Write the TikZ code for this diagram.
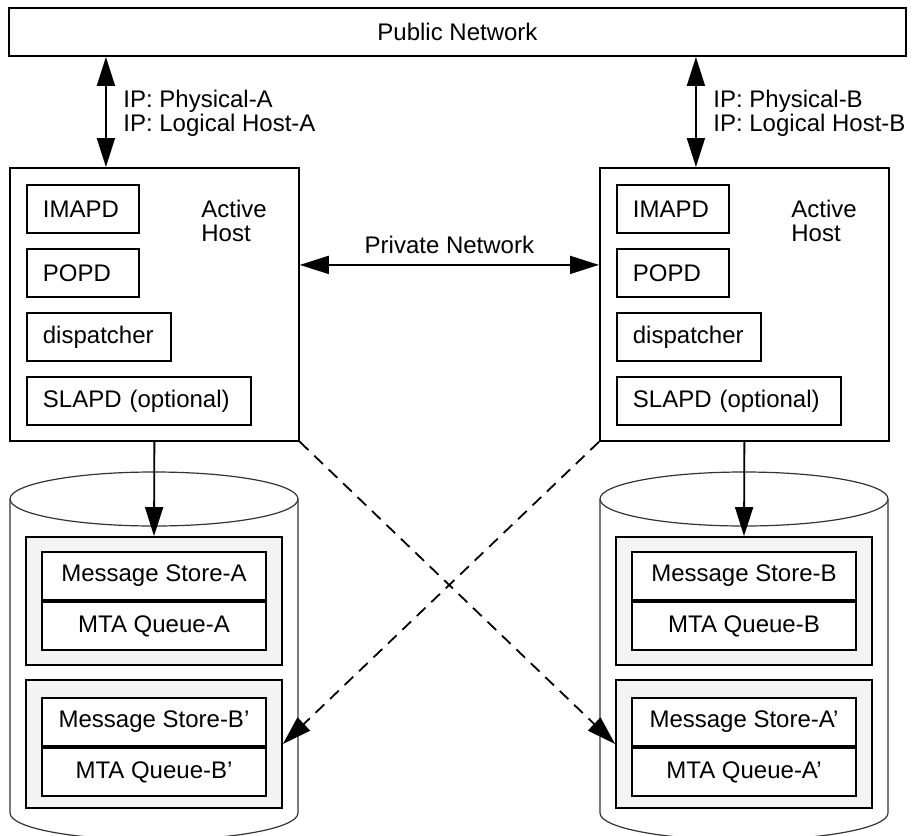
\documentclass[tikz,border=0pt]{standalone}
\usepackage{fontspec}
\setmainfont{Liberation Sans}
\usetikzlibrary{arrows.meta,calc}
\definecolor{storegray}{HTML}{F4F4F4}
\tikzset{
  % outlined service box, text flush left
  svc/.style   = {draw, line width=0.9pt, anchor=north west, inner xsep=8pt,
                  minimum height=24pt, align=left},
  host/.style  = {draw, line width=0.9pt, anchor=north west, minimum width=144.5pt,
                  minimum height=136.5pt, inner sep=0pt},
  store/.style = {draw, line width=0.9pt, fill=storegray, minimum width=128pt,
                  minimum height=64pt},
  cell/.style  = {draw, line width=0.9pt, fill=white, minimum width=112pt,
                  minimum height=24pt, inner sep=0pt},
  % two-line label, placed by the baseline of its last line
  lbl/.style   = {align=left, inner sep=0pt, anchor=base west},
  dbl/.style   = {{Triangle[length=14.5pt,width=9pt]}-{Triangle[length=14.5pt,width=9pt]},
                  line width=0.9pt},
  arr/.style   = {-{Triangle[length=14.5pt,width=9pt]}, line width=0.9pt},
  link/.style  = {arr, dash pattern=on 6pt off 4pt},
  drum/.style  = {line width=0.6pt, draw=black!80},
}

\begin{document}
\begin{tikzpicture}[x=0.5pt, y=-0.5pt, font=\fontsize{12}{12}\selectfont]
\useasboundingbox (0,0) rectangle (912,836);
\clip (0,0) rectangle (912,836);

% --- public network along the top -------------------------------------
\node[draw, line width=0.9pt, minimum width=448.5pt, minimum height=24pt] (pub)
  at (457.5,32) {Public Network};

% --- the two hosts, each with its disk --------------------------------
\foreach \h/\oth/\dx in {A/B/0, B/A/590} {
  \node[host] (host\h) at (9+\dx,167) {};
  \node[svc, text width=40pt] (imapd\h) at (26+\dx,184) {IMAPD};
  \node[svc, text width=40pt] (popd\h)  at (26+\dx,248) {POPD};
  \node[svc, text width=56pt] (disp\h)  at (26+\dx,312) {dispatcher};
  \node[svc, text width=96pt] (slapd\h) at (26+\dx,376) {SLAPD (optional)};
  \node[lbl] (role\h) at (201+\dx,241) {Active\\Host};

  % uplink to the public network
  \coordinate (up\h) at ($(host\h.north west)!1/3!(host\h.north east)$);
  \draw[dbl] (pub.south -| up\h) -- (up\h);
  \node[lbl] (ip\h) at (123+\dx,131) {IP: Physical-\h\\IP: Logical Host-\h};

  % disk drum
  \draw[drum] (10+\dx,499) -- (10+\dx,813)
    arc[start angle=180, end angle=360, x radius=72pt, y radius=13.5pt] -- (298+\dx,499);
  \draw[drum] (154+\dx,499) ellipse[x radius=72pt, y radius=13.5pt];

  % own store, then the standby copy of the partner's store
  \node[store] (own\h) at (154+\dx,601) {};
  \node[cell, anchor=south] (ms\h) at (154+\dx,601) {Message Store-\h};
  \node[cell, anchor=north] (mq\h) at (154+\dx,601) {MTA Queue-\h};
  \node[store] (alt\h) at (154+\dx,744) {};
  \node[cell, anchor=south] (msalt\h) at (154+\dx,747) {Message Store-\oth'};
  \node[cell, anchor=north] (mqalt\h) at (154+\dx,747) {MTA Queue-\oth'};

  \draw[arr] (host\h.south) -- (own\h.north);
}

% --- private network and takeover paths -------------------------------
\draw[dbl] ([yshift=19.75pt]hostA.east) -- node[above=2pt] {Private Network}
  ([yshift=19.75pt]hostB.west);
\draw[link] (hostB.south west) -- (altA.east);
\draw[link] (hostA.south east) -- (altB.west);
\end{tikzpicture}
\end{document}
